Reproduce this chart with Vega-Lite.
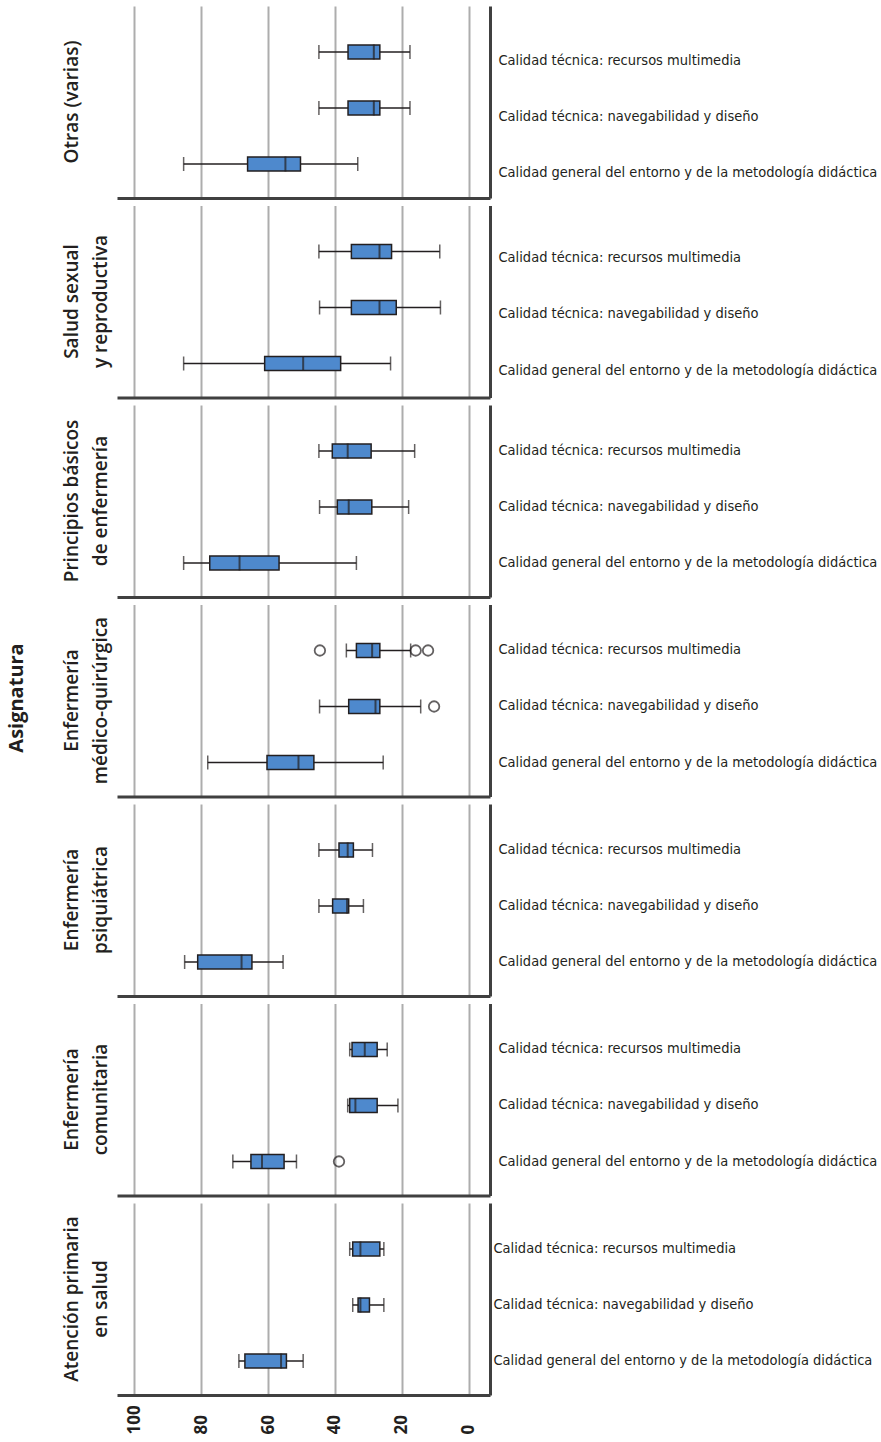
{
"$schema": "https://vega.github.io/schema/vega-lite/v6.json",
"background": "white",
"padding": {"left": 6, "top": 6, "right": 0, "bottom": 0},
"title": {"text": "Asignatura", "orient": "left", "anchor": "middle", "fontSize": 20, "fontWeight": "bold", "font": "Open Sans", "color": "#231f20", "offset": 36, "dx": 22},
"spacing": 7.5,
"data": {"values": [
{"asig":"Otras (varias)","cat":"Calidad técnica: recursos multimedia","lo":17.6,"q1":26.6,"med":28.4,"q3":36.1,"hi":44.8},
{"asig":"Otras (varias)","cat":"Calidad técnica: navegabilidad y diseño","lo":17.6,"q1":26.6,"med":28.4,"q3":36.1,"hi":44.8},
{"asig":"Otras (varias)","cat":"Calidad general del entorno y de la metodología didáctica","lo":33.2,"q1":50.3,"med":54.8,"q3":66.1,"hi":85.2},
{"asig":"Salud sexual y reproductiva","cat":"Calidad técnica: recursos multimedia","lo":8.7,"q1":23.1,"med":26.7,"q3":35.1,"hi":44.8},
{"asig":"Salud sexual y reproductiva","cat":"Calidad técnica: navegabilidad y diseño","lo":8.5,"q1":21.7,"med":26.7,"q3":35.1,"hi":44.6},
{"asig":"Salud sexual y reproductiva","cat":"Calidad general del entorno y de la metodología didáctica","lo":23.4,"q1":38.3,"med":49.5,"q3":61.0,"hi":85.2},
{"asig":"Principios básicos de enfermería","cat":"Calidad técnica: recursos multimedia","lo":16.2,"q1":29.2,"med":36.2,"q3":40.8,"hi":44.8},
{"asig":"Principios básicos de enfermería","cat":"Calidad técnica: navegabilidad y diseño","lo":18.0,"q1":29.0,"med":35.9,"q3":39.3,"hi":44.6},
{"asig":"Principios básicos de enfermería","cat":"Calidad general del entorno y de la metodología didáctica","lo":33.6,"q1":56.7,"med":68.5,"q3":77.4,"hi":85.2},
{"asig":"Enfermería médico-quirúrgica","cat":"Calidad técnica: recursos multimedia","lo":17.4,"q1":26.6,"med":28.9,"q3":33.6,"hi":36.6},
{"asig":"Enfermería médico-quirúrgica","cat":"Calidad técnica: navegabilidad y diseño","lo":14.4,"q1":26.6,"med":27.9,"q3":35.9,"hi":44.6},
{"asig":"Enfermería médico-quirúrgica","cat":"Calidad general del entorno y de la metodología didáctica","lo":25.6,"q1":46.3,"med":50.9,"q3":60.3,"hi":78.0},
{"asig":"Enfermería psiquiátrica","cat":"Calidad técnica: recursos multimedia","lo":28.8,"q1":34.5,"med":36.2,"q3":38.8,"hi":44.8},
{"asig":"Enfermería psiquiátrica","cat":"Calidad técnica: navegabilidad y diseño","lo":31.5,"q1":35.9,"med":36.4,"q3":40.7,"hi":44.8},
{"asig":"Enfermería psiquiátrica","cat":"Calidad general del entorno y de la metodología didáctica","lo":55.5,"q1":64.8,"med":67.9,"q3":81.0,"hi":84.9},
{"asig":"Enfermería comunitaria","cat":"Calidad técnica: recursos multimedia","lo":24.4,"q1":27.4,"med":31.1,"q3":34.9,"hi":35.6},
{"asig":"Enfermería comunitaria","cat":"Calidad técnica: navegabilidad y diseño","lo":21.2,"q1":27.4,"med":33.9,"q3":35.6,"hi":36.2},
{"asig":"Enfermería comunitaria","cat":"Calidad general del entorno y de la metodología didáctica","lo":51.5,"q1":55.2,"med":61.8,"q3":65.1,"hi":70.5},
{"asig":"Atención primaria en salud","cat":"Calidad técnica: recursos multimedia","lo":25.4,"q1":26.6,"med":32.4,"q3":34.7,"hi":35.6},
{"asig":"Atención primaria en salud","cat":"Calidad técnica: navegabilidad y diseño","lo":25.4,"q1":29.7,"med":32.4,"q3":33.1,"hi":34.7},
{"asig":"Atención primaria en salud","cat":"Calidad general del entorno y de la metodología didáctica","lo":49.5,"q1":54.5,"med":56.1,"q3":66.9,"hi":68.7},
{"asig":"Enfermería médico-quirúrgica","cat":"Calidad técnica: recursos multimedia","out":44.5},
{"asig":"Enfermería médico-quirúrgica","cat":"Calidad técnica: recursos multimedia","out":15.9},
{"asig":"Enfermería médico-quirúrgica","cat":"Calidad técnica: recursos multimedia","out":12.2},
{"asig":"Enfermería médico-quirúrgica","cat":"Calidad técnica: navegabilidad y diseño","out":10.4},
{"asig":"Enfermería comunitaria","cat":"Calidad general del entorno y de la metodología didáctica","out":38.8}
]},
"vconcat": [
{"title": {"text": ["Otras (varias)", " "]}, "width": 373, "height": 192,
 "transform": [{"filter": "datum.asig == 'Otras (varias)'"}],
 "encoding": {"y": {"field": "cat", "type": "nominal", "title": null, "scale": {"domain": ["Calidad técnica: recursos multimedia","Calidad técnica: navegabilidad y diseño","Calidad general del entorno y de la metodología didáctica"], "paddingInner": 0, "paddingOuter": 0.214, "align": 0.75}, "axis": {"orient": "right", "labelOffset": 9}}},
 "layer": [
  {"mark": {"type": "rule", "color": "#231f20", "strokeWidth": 1.5}, "encoding": {"x": {"field": "lo", "type": "quantitative", "scale": {"domain": [-6.3, 105.1], "reverse": true, "nice": false, "zero": false}, "axis": {"labels": false, "values": [0, 20, 40, 60, 80, 100]}}, "x2": {"field": "hi"}}},
  {"mark": {"type": "tick", "color": "#231f20", "thickness": 1.5, "size": 14}, "encoding": {"x": {"field": "lo", "type": "quantitative", "title": null}}},
  {"mark": {"type": "tick", "color": "#231f20", "thickness": 1.5, "size": 14}, "encoding": {"x": {"field": "hi", "type": "quantitative", "title": null}}},
  {"mark": {"type": "bar", "size": 14, "fill": "#4E89CD", "stroke": "#231f20", "strokeWidth": 1.5}, "encoding": {"x": {"field": "q1", "type": "quantitative", "title": null}, "x2": {"field": "q3"}}},
  {"mark": {"type": "tick", "color": "#231f20", "thickness": 2, "size": 15}, "encoding": {"x": {"field": "med", "type": "quantitative", "title": null}}},
  {"mark": {"type": "point", "shape": "circle", "filled": false, "size": 110, "stroke": "#231f20", "strokeWidth": 1.8}, "encoding": {"x": {"field": "out", "type": "quantitative", "title": null}}}
 ]},
{"title": {"text": ["Salud sexual", "y reproductiva"]}, "width": 373, "height": 192,
 "transform": [{"filter": "datum.asig == 'Salud sexual y reproductiva'"}],
 "encoding": {"y": {"field": "cat", "type": "nominal", "title": null, "scale": {"domain": ["Calidad técnica: recursos multimedia","Calidad técnica: navegabilidad y diseño","Calidad general del entorno y de la metodología didáctica"], "paddingInner": 0, "paddingOuter": 0.214, "align": 0.75}, "axis": {"orient": "right", "labelOffset": 7}}},
 "layer": [
  {"mark": {"type": "rule", "color": "#231f20", "strokeWidth": 1.5}, "encoding": {"x": {"field": "lo", "type": "quantitative", "scale": {"domain": [-6.3, 105.1], "reverse": true, "nice": false, "zero": false}, "axis": {"labels": false, "values": [0, 20, 40, 60, 80, 100]}}, "x2": {"field": "hi"}}},
  {"mark": {"type": "tick", "color": "#231f20", "thickness": 1.5, "size": 14}, "encoding": {"x": {"field": "lo", "type": "quantitative", "title": null}}},
  {"mark": {"type": "tick", "color": "#231f20", "thickness": 1.5, "size": 14}, "encoding": {"x": {"field": "hi", "type": "quantitative", "title": null}}},
  {"mark": {"type": "bar", "size": 14, "fill": "#4E89CD", "stroke": "#231f20", "strokeWidth": 1.5}, "encoding": {"x": {"field": "q1", "type": "quantitative", "title": null}, "x2": {"field": "q3"}}},
  {"mark": {"type": "tick", "color": "#231f20", "thickness": 2, "size": 15}, "encoding": {"x": {"field": "med", "type": "quantitative", "title": null}}},
  {"mark": {"type": "point", "shape": "circle", "filled": false, "size": 110, "stroke": "#231f20", "strokeWidth": 1.8}, "encoding": {"x": {"field": "out", "type": "quantitative", "title": null}}}
 ]},
{"title": {"text": ["Principios básicos", "de enfermería"]}, "width": 373, "height": 192,
 "transform": [{"filter": "datum.asig == 'Principios básicos de enfermería'"}],
 "encoding": {"y": {"field": "cat", "type": "nominal", "title": null, "scale": {"domain": ["Calidad técnica: recursos multimedia","Calidad técnica: navegabilidad y diseño","Calidad general del entorno y de la metodología didáctica"], "paddingInner": 0, "paddingOuter": 0.214, "align": 0.75}, "axis": {"orient": "right"}}},
 "layer": [
  {"mark": {"type": "rule", "color": "#231f20", "strokeWidth": 1.5}, "encoding": {"x": {"field": "lo", "type": "quantitative", "scale": {"domain": [-6.3, 105.1], "reverse": true, "nice": false, "zero": false}, "axis": {"labels": false, "values": [0, 20, 40, 60, 80, 100]}}, "x2": {"field": "hi"}}},
  {"mark": {"type": "tick", "color": "#231f20", "thickness": 1.5, "size": 14}, "encoding": {"x": {"field": "lo", "type": "quantitative", "title": null}}},
  {"mark": {"type": "tick", "color": "#231f20", "thickness": 1.5, "size": 14}, "encoding": {"x": {"field": "hi", "type": "quantitative", "title": null}}},
  {"mark": {"type": "bar", "size": 14, "fill": "#4E89CD", "stroke": "#231f20", "strokeWidth": 1.5}, "encoding": {"x": {"field": "q1", "type": "quantitative", "title": null}, "x2": {"field": "q3"}}},
  {"mark": {"type": "tick", "color": "#231f20", "thickness": 2, "size": 15}, "encoding": {"x": {"field": "med", "type": "quantitative", "title": null}}},
  {"mark": {"type": "point", "shape": "circle", "filled": false, "size": 110, "stroke": "#231f20", "strokeWidth": 1.8}, "encoding": {"x": {"field": "out", "type": "quantitative", "title": null}}}
 ]},
{"title": {"text": ["Enfermería", "médico-quirúrgica"]}, "width": 373, "height": 192,
 "transform": [{"filter": "datum.asig == 'Enfermería médico-quirúrgica'"}],
 "encoding": {"y": {"field": "cat", "type": "nominal", "title": null, "scale": {"domain": ["Calidad técnica: recursos multimedia","Calidad técnica: navegabilidad y diseño","Calidad general del entorno y de la metodología didáctica"], "paddingInner": 0, "paddingOuter": 0.214, "align": 0.75}, "axis": {"orient": "right"}}},
 "layer": [
  {"mark": {"type": "rule", "color": "#231f20", "strokeWidth": 1.5}, "encoding": {"x": {"field": "lo", "type": "quantitative", "scale": {"domain": [-6.3, 105.1], "reverse": true, "nice": false, "zero": false}, "axis": {"labels": false, "values": [0, 20, 40, 60, 80, 100]}}, "x2": {"field": "hi"}}},
  {"mark": {"type": "tick", "color": "#231f20", "thickness": 1.5, "size": 14}, "encoding": {"x": {"field": "lo", "type": "quantitative", "title": null}}},
  {"mark": {"type": "tick", "color": "#231f20", "thickness": 1.5, "size": 14}, "encoding": {"x": {"field": "hi", "type": "quantitative", "title": null}}},
  {"mark": {"type": "bar", "size": 14, "fill": "#4E89CD", "stroke": "#231f20", "strokeWidth": 1.5}, "encoding": {"x": {"field": "q1", "type": "quantitative", "title": null}, "x2": {"field": "q3"}}},
  {"mark": {"type": "tick", "color": "#231f20", "thickness": 2, "size": 15}, "encoding": {"x": {"field": "med", "type": "quantitative", "title": null}}},
  {"mark": {"type": "point", "shape": "circle", "filled": false, "size": 110, "stroke": "#231f20", "strokeWidth": 1.8}, "encoding": {"x": {"field": "out", "type": "quantitative", "title": null}}}
 ]},
{"title": {"text": ["Enfermería", "psiquiátrica"]}, "width": 373, "height": 192,
 "transform": [{"filter": "datum.asig == 'Enfermería psiquiátrica'"}],
 "encoding": {"y": {"field": "cat", "type": "nominal", "title": null, "scale": {"domain": ["Calidad técnica: recursos multimedia","Calidad técnica: navegabilidad y diseño","Calidad general del entorno y de la metodología didáctica"], "paddingInner": 0, "paddingOuter": 0.214, "align": 0.75}, "axis": {"orient": "right"}}},
 "layer": [
  {"mark": {"type": "rule", "color": "#231f20", "strokeWidth": 1.5}, "encoding": {"x": {"field": "lo", "type": "quantitative", "scale": {"domain": [-6.3, 105.1], "reverse": true, "nice": false, "zero": false}, "axis": {"labels": false, "values": [0, 20, 40, 60, 80, 100]}}, "x2": {"field": "hi"}}},
  {"mark": {"type": "tick", "color": "#231f20", "thickness": 1.5, "size": 14}, "encoding": {"x": {"field": "lo", "type": "quantitative", "title": null}}},
  {"mark": {"type": "tick", "color": "#231f20", "thickness": 1.5, "size": 14}, "encoding": {"x": {"field": "hi", "type": "quantitative", "title": null}}},
  {"mark": {"type": "bar", "size": 14, "fill": "#4E89CD", "stroke": "#231f20", "strokeWidth": 1.5}, "encoding": {"x": {"field": "q1", "type": "quantitative", "title": null}, "x2": {"field": "q3"}}},
  {"mark": {"type": "tick", "color": "#231f20", "thickness": 2, "size": 15}, "encoding": {"x": {"field": "med", "type": "quantitative", "title": null}}},
  {"mark": {"type": "point", "shape": "circle", "filled": false, "size": 110, "stroke": "#231f20", "strokeWidth": 1.8}, "encoding": {"x": {"field": "out", "type": "quantitative", "title": null}}}
 ]},
{"title": {"text": ["Enfermería", "comunitaria"]}, "width": 373, "height": 192,
 "transform": [{"filter": "datum.asig == 'Enfermería comunitaria'"}],
 "encoding": {"y": {"field": "cat", "type": "nominal", "title": null, "scale": {"domain": ["Calidad técnica: recursos multimedia","Calidad técnica: navegabilidad y diseño","Calidad general del entorno y de la metodología didáctica"], "paddingInner": 0, "paddingOuter": 0.214, "align": 0.75}, "axis": {"orient": "right"}}},
 "layer": [
  {"mark": {"type": "rule", "color": "#231f20", "strokeWidth": 1.5}, "encoding": {"x": {"field": "lo", "type": "quantitative", "scale": {"domain": [-6.3, 105.1], "reverse": true, "nice": false, "zero": false}, "axis": {"labels": false, "values": [0, 20, 40, 60, 80, 100]}}, "x2": {"field": "hi"}}},
  {"mark": {"type": "tick", "color": "#231f20", "thickness": 1.5, "size": 14}, "encoding": {"x": {"field": "lo", "type": "quantitative", "title": null}}},
  {"mark": {"type": "tick", "color": "#231f20", "thickness": 1.5, "size": 14}, "encoding": {"x": {"field": "hi", "type": "quantitative", "title": null}}},
  {"mark": {"type": "bar", "size": 14, "fill": "#4E89CD", "stroke": "#231f20", "strokeWidth": 1.5}, "encoding": {"x": {"field": "q1", "type": "quantitative", "title": null}, "x2": {"field": "q3"}}},
  {"mark": {"type": "tick", "color": "#231f20", "thickness": 2, "size": 15}, "encoding": {"x": {"field": "med", "type": "quantitative", "title": null}}},
  {"mark": {"type": "point", "shape": "circle", "filled": false, "size": 110, "stroke": "#231f20", "strokeWidth": 1.8}, "encoding": {"x": {"field": "out", "type": "quantitative", "title": null}}}
 ]},
{"title": {"text": ["Atención primaria", "en salud"]}, "width": 373, "height": 192,
 "transform": [{"filter": "datum.asig == 'Atención primaria en salud'"}],
 "encoding": {"y": {"field": "cat", "type": "nominal", "title": null, "scale": {"domain": ["Calidad técnica: recursos multimedia","Calidad técnica: navegabilidad y diseño","Calidad general del entorno y de la metodología didáctica"], "paddingInner": 0, "paddingOuter": 0.214, "align": 0.75}, "axis": {"orient": "right", "labelPadding": 3}}},
 "layer": [
  {"mark": {"type": "rule", "color": "#231f20", "strokeWidth": 1.5}, "encoding": {"x": {"field": "lo", "type": "quantitative", "scale": {"domain": [-6.3, 105.1], "reverse": true, "nice": false, "zero": false}, "axis": {"values": [0, 20, 40, 60, 80, 100], "labels": true, "labelAngle": -90, "labelAlign": "left", "labelBaseline": "middle", "labelPadding": 39, "labelFontSize": 17, "labelFontWeight": "bold", "labelFont": "Open Sans", "labelColor": "#231f20"}}, "x2": {"field": "hi"}}},
  {"mark": {"type": "tick", "color": "#231f20", "thickness": 1.5, "size": 14}, "encoding": {"x": {"field": "lo", "type": "quantitative", "title": null}}},
  {"mark": {"type": "tick", "color": "#231f20", "thickness": 1.5, "size": 14}, "encoding": {"x": {"field": "hi", "type": "quantitative", "title": null}}},
  {"mark": {"type": "bar", "size": 14, "fill": "#4E89CD", "stroke": "#231f20", "strokeWidth": 1.5}, "encoding": {"x": {"field": "q1", "type": "quantitative", "title": null}, "x2": {"field": "q3"}}},
  {"mark": {"type": "tick", "color": "#231f20", "thickness": 2, "size": 15}, "encoding": {"x": {"field": "med", "type": "quantitative", "title": null}}},
  {"mark": {"type": "point", "shape": "circle", "filled": false, "size": 110, "stroke": "#231f20", "strokeWidth": 1.8}, "encoding": {"x": {"field": "out", "type": "quantitative", "title": null}}}
 ]}
],
"config": {
 "view": {"stroke": null},
 "title": {"orient": "left", "anchor": "middle", "fontSize": 19, "font": "Open Sans", "fontWeight": 600, "color": "#231f20", "lineHeight": 29, "offset": 6},
 "axisX": {"title": null, "grid": true, "gridColor": "#ADADAD", "gridWidth": 2, "ticks": false, "domain": true, "domainColor": "#404040", "domainWidth": 3},
 "axisY": {"title": null, "grid": false, "ticks": false, "domain": true, "domainColor": "#404040", "domainWidth": 3, "labelFont": "DejaVu Sans Condensed, Liberation Sans", "labelFontSize": 14.5, "labelColor": "#231f20", "labelPadding": 8, "labelLimit": 0}
}
}
